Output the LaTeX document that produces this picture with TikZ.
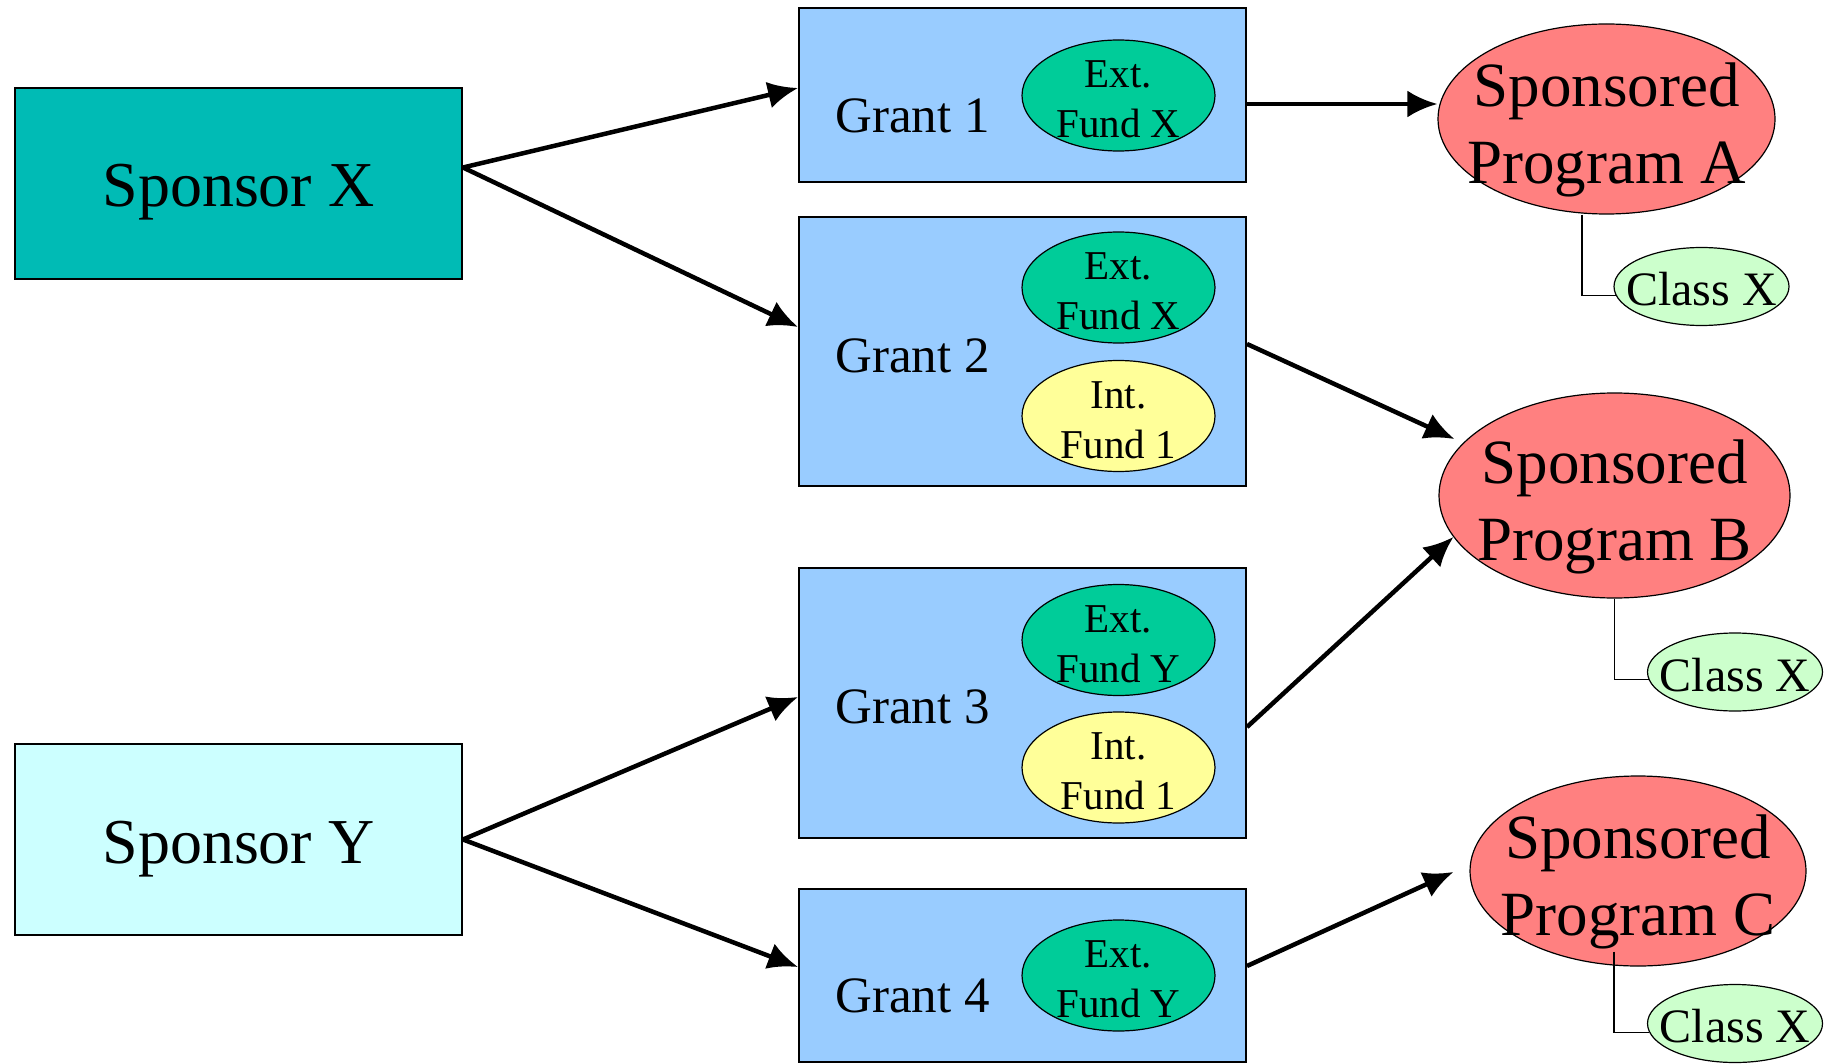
\documentclass[tikz,border=0pt]{standalone}
\usepackage{fontspec}
\setmainfont{Liberation Serif}
\usetikzlibrary{arrows.meta,shapes.geometric}

\definecolor{sponsorx}{RGB}{0,187,181}
\definecolor{sponsory}{RGB}{204,255,255}
\definecolor{grantblue}{RGB}{153,204,255}
\definecolor{extgreen}{RGB}{0,204,153}
\definecolor{intyellow}{RGB}{255,255,153}
\definecolor{progred}{RGB}{255,128,128}
\definecolor{classgreen}{RGB}{204,255,204}

\begin{document}
\begin{tikzpicture}[x=1pt,y=-1pt,>={Latex[length=30pt,width=27pt]}]
  \tikzset{sponsor/.style  = {draw,line width=2pt,minimum width=447pt,minimum height=191pt,
                              text height=47pt,text depth=0pt,font=\fontsize{64}{72}\selectfont},
           grant/.style    = {draw,line width=2pt,fill=grantblue,minimum width=447pt},
           grantlabel/.style = {anchor=base west,inner sep=0pt,font=\fontsize{51}{60}\selectfont},
           fund/.style     = {ellipse,draw,line width=1.2pt,inner sep=0pt,
                              minimum width=193pt,minimum height=111pt},
           fundtext/.style = {align=center,inner sep=0pt,yshift=-4pt,font=\fontsize{41}{50}\selectfont},
           prog/.style     = {ellipse,draw,line width=1.2pt,inner sep=0pt,fill=progred},
           progtext/.style = {align=center,inner sep=0pt,yshift=-11pt,font=\fontsize{63}{77}\selectfont},
           class/.style    = {ellipse,draw,line width=1.2pt,inner sep=0pt,fill=classgreen,
                              minimum width=175pt,minimum height=78pt},
           classtext/.style = {inner sep=0pt,yshift=-3pt,font=\fontsize{48}{56}\selectfont},
           flow/.style     = {->,line width=4.5pt},
           link/.style     = {line width=1.3pt}}
  \useasboundingbox (0,0) rectangle (1827,1064);

  % sponsors
  \node[sponsor,fill=sponsorx] (sx) at (238.5,183.5) {Sponsor X};
  \node[sponsor,fill=sponsory] (sy) at (238.5,839.5) {Sponsor Y};

  % grants
  \node[grant,minimum height=174pt] (g1) at (1022.5,95)    {};
  \node[grant,minimum height=269pt] (g2) at (1022.5,351.5) {};
  \node[grant,minimum height=270pt] (g3) at (1022.5,703)   {};
  \node[grant,minimum height=173pt] (g4) at (1022.5,975.5) {};
  \node[grantlabel] (g1t) at (835,133)  {Grant 1};
  \node[grantlabel] (g2t) at (835,372)  {Grant 2};
  \node[grantlabel] (g3t) at (835,723)  {Grant 3};
  \node[grantlabel] (g4t) at (835,1012) {Grant 4};

  % funds
  \node[fund,fill=extgreen,label={[fundtext]center:{Ext.\\Fund X}}]  (g1e) at (1118.5,95.5)  {};
  \node[fund,fill=extgreen,label={[fundtext]center:{Ext.\\Fund X}}]  (g2e) at (1118.5,287.5) {};
  \node[fund,fill=intyellow,label={[fundtext]center:{Int.\\Fund 1}}] (g2i) at (1118.5,416)   {};
  \node[fund,fill=extgreen,label={[fundtext]center:{Ext.\\Fund Y}}]  (g3e) at (1118.5,640)   {};
  \node[fund,fill=intyellow,label={[fundtext]center:{Int.\\Fund 1}}] (g3i) at (1118.5,767.5) {};
  \node[fund,fill=extgreen,label={[fundtext]center:{Ext.\\Fund Y}}]  (g4e) at (1118.5,975.5) {};

  % sponsored programs
  \node[prog,minimum width=337pt,minimum height=190pt,
        label={[progtext]center:{Sponsored\\Program A}}] (pa) at (1606.5,119)   {};
  \node[prog,minimum width=351pt,minimum height=205pt,
        label={[progtext]center:{Sponsored\\Program B}}] (pb) at (1614.5,495.5) {};
  \node[prog,minimum width=336pt,minimum height=190pt,
        label={[progtext]center:{Sponsored\\Program C}}] (pc) at (1638,871)     {};

  % classes
  \node[class,label={[classtext]center:Class X}] (ca) at (1701.5,286.5) {};
  \node[class,label={[classtext]center:Class X}] (cb) at (1735,672)     {};
  \node[class,label={[classtext]center:Class X}] (cc) at (1735,1023.5)  {};

  \draw[link] ([xshift=-24.5pt]pa.south) |- (ca.186);
  \draw[link] (pb.south) |- (cb.185);
  \draw[link] ([xshift=-24pt,yshift=15pt]pc.south) |- (cc.186);

  % money flow
  \draw[flow] ([yshift=16pt]sx.east) -- ([yshift=7pt]g1.west);
  \draw[flow] ([yshift=16pt]sx.east) -- ([yshift=24.5pt]g2.west);
  \draw[flow] (sy.east) -- ([yshift=6pt]g3.west);
  \draw[flow] (sy.east) -- ([yshift=8.5pt]g4.west);
  \draw[flow] ([yshift=-9pt]g1.east) -- ([yshift=15pt]pa.west);
  \draw[flow] ([yshift=7.5pt]g2.east) -- ([xshift=16pt,yshift=56.5pt]pb.west);
  \draw[flow] ([yshift=-24pt]g3.east) -- ([xshift=15pt,yshift=-41.5pt]pb.west);
  \draw[flow] ([yshift=9.5pt]g4.east) -- ([xshift=-16pt,yshift=-1pt]pc.west);
\end{tikzpicture}
\end{document}
